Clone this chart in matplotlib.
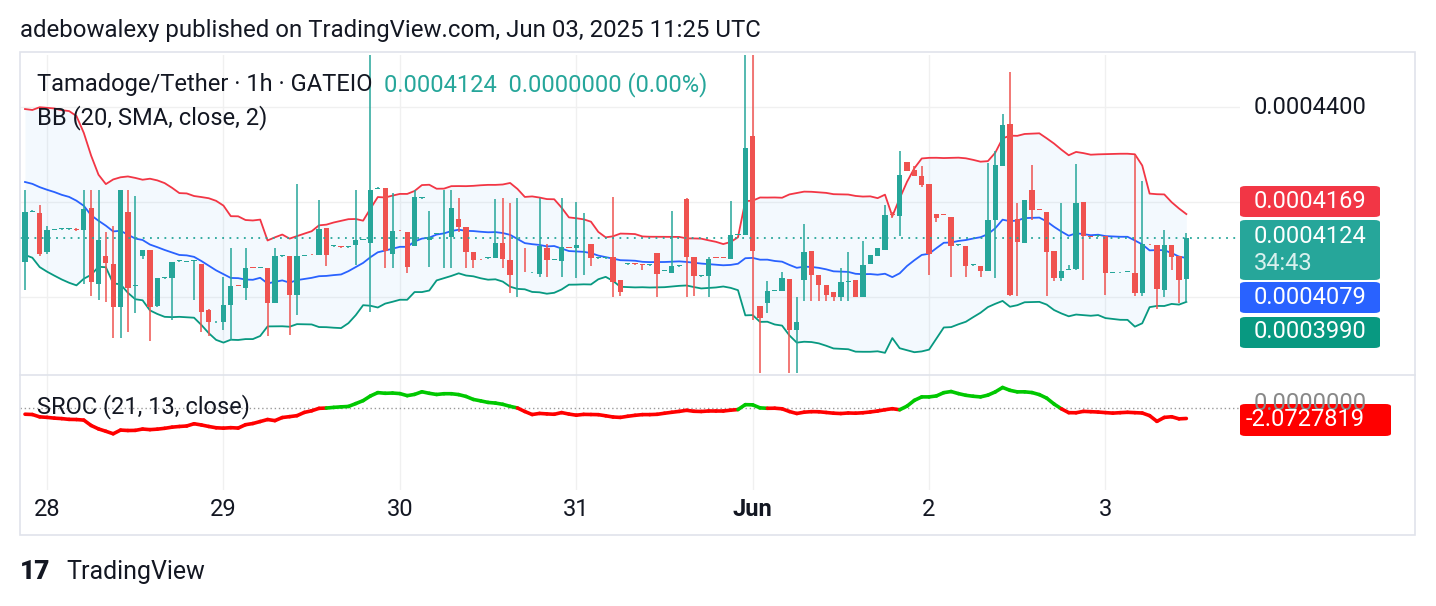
import numpy as np
import pandas as pd
import matplotlib
matplotlib.use("Agg")
import matplotlib.pyplot as plt
from matplotlib.patches import Rectangle, FancyBboxPatch

plt.rcParams["font.family"] = "Roboto"

# ---- data (prices in units of 1e-7 USDT) ----
opens = [4074,4179,4177,4095,4141,4143,4143,4143,4141,4187,4027,4086,4070,3979,4179,4023,4086,4099,3981,4040,
         4040,4076,4074,4076,4070,3973,3947,3947,3983,4026,4019,4063,4062,4061,3987,4086,4086,4004,4086,4091,
         4088,4145,4107,4106,4105,4110,4120,4114,4227,4229,4091,4141,4137,4107,4208,4120,4133,4134,4126,4164,
         4147,4095,4080,4082,4082,4114,4078,4052,4053,4052,4048,4103,4078,4076,4105,4103,4115,4112,4082,4082,
         4084,4036,4069,4070,4069,4067,4093,4055,4051,4065,4206,4084,4044,4044,4084,4084,4080,4131,4131,4339,
         3981,3987,4013,4013,4038,3931,4036,4097,4046,4026,4011,4000,4032,4036,4000,4070,4086,4099,4174,4171,
         4284,4267,4255,4238,4175,4174,4168,4109,4107,4067,4065,4055,4162,4276,4364,4164,4114,4225,4185,4179,
         4097,4040,4057,4059,4200,4128,4128,4128,4051,4052,4053,4051,4008,4112,4110,4015,4110,4086,4038]
highs = [4225,4183,4194,4150,4143,4145,4145,4145,4225,4225,4225,4137,4150,4225,4225,4213,4099,4099,4040,4042,
         4074,4078,4076,4078,4070,3975,3949,4042,4103,4026,4103,4063,4063,4061,4103,4088,4086,4238,4088,4091,
         4204,4145,4109,4106,4106,4225,4122,4509,4231,4229,4219,4141,4137,4225,4210,4181,4134,4225,4225,4208,
         4147,4095,4080,4083,4206,4208,4198,4208,4103,4053,4208,4112,4079,4208,4106,4200,4177,4112,4083,4083,
         4211,4036,4070,4070,4069,4068,4093,4056,4181,4066,4208,4084,4045,4084,4084,4084,4202,4132,4509,4509,
         3981,4034,4014,4053,4038,4000,4154,4097,4046,4026,4011,4061,4095,4036,4118,4088,4103,4194,4179,4307,
         4284,4276,4276,4238,4175,4174,4168,4110,4107,4068,4065,4282,4307,4385,4474,4198,4204,4278,4185,4179,
         4097,4198,4067,4280,4200,4128,4129,4128,4052,4053,4054,4299,4244,4112,4110,4141,4110,4086,4135]
lows = [4015,4179,4086,4091,4141,4141,4141,4139,4027,4002,3994,3990,3914,3914,3926,3966,4080,3907,3979,4038,
        3952,4074,4074,3994,3926,3918,3945,3931,3910,4023,3994,4061,4061,3918,3987,4084,3920,3962,4086,4088,
        4088,4065,4105,4104,4104,4067,4119,3968,4227,4061,4061,4139,4051,4107,4207,4063,4132,4061,4061,4137,
        4061,4061,4078,4081,4082,4061,4008,4000,4052,4051,4042,4042,4077,4042,4103,4040,4046,4065,4081,4081,
        4000,4002,4068,4068,4057,4066,4000,4054,4051,4064,4000,4002,4043,4000,4082,4082,4080,4130,4131,3952,
        3840,3966,4012,4013,3840,3840,3992,3992,3992,3992,3992,3992,3992,4000,4000,4070,4086,4099,4166,4128,
        4265,4255,4232,4046,4158,4172,4042,4108,4042,4066,4042,4055,4040,4276,4002,4002,4114,4162,4183,4002,
        4034,4034,4056,4057,4036,4126,4127,4004,4050,4051,4052,4002,4002,4110,3975,4000,4057,3987,3990]
closes = [4179,4181,4091,4141,4143,4143,4143,4141,4185,4032,4120,4072,3979,4225,4019,4025,4099,3979,4040,4042,
          4074,4076,4074,4078,3968,3947,3947,3983,4023,4024,4061,4062,4063,3987,4086,4086,4004,4086,4088,4090,
          4143,4088,4108,4105,4106,4120,4121,4225,4229,4097,4139,4140,4063,4211,4209,4126,4133,4135,4187,4147,
          4095,4078,4079,4083,4114,4080,4046,4053,4052,4053,4107,4078,4079,4105,4104,4110,4116,4082,4082,4083,
          4032,4011,4070,4069,4068,4068,4048,4056,4065,4066,4084,4044,4045,4080,4083,4083,4131,4132,4314,4097,
          3956,4013,4014,4040,3931,3947,4095,4046,4026,4004,4000,4032,4033,4000,4067,4088,4103,4173,4172,4257,
          4265,4255,4236,4091,4166,4173,4107,4110,4065,4068,4055,4162,4278,4362,4004,4116,4204,4183,4184,4095,
          4040,4055,4058,4198,4128,4127,4129,4051,4052,4053,4054,4008,4112,4111,4017,4110,4084,4036,4124]
# closes before the visible window (estimated, used only for indicator warm-up)
prior_closes = [4250,4240,4260,4230,4250,4240,4260,4230,4300,4400,4430,4350,4280,4220,4200,4180,4190,4160,4170,4150,4160]

day_labels = ["28", "29", "30", "31", "Jun", "2", "3"]
day_index = [3, 27, 51, 75, 99, 123, 147]
scale_label = "0.0004400"
last_labels = ["0.0004169", "0.0004124", "0.0004079", "0.0003990"]
countdown = "34:43"
sroc_label = "-2.0727819"

U = 1e-7
o = np.array(opens) * U; h = np.array(highs) * U; l = np.array(lows) * U; c = np.array(closes) * U
n = len(c)
idx = np.arange(n)
allc = pd.Series(np.concatenate([np.array(prior_closes) * U, c]))
npre = len(prior_closes)
mid = allc.rolling(20).mean()
sd = allc.rolling(20).std(ddof=0)
up = (mid + 2 * sd).values[npre:]
lo = (mid - 2 * sd).values[npre:]
mid = mid.values[npre:]
ema = allc.ewm(span=13, adjust=False).mean()
sroc = (100 * (ema / ema.shift(21) - 1)).values[npre:]

W, H = 1436, 606
fig = plt.figure(figsize=(W / 100, H / 100), dpi=100)
fig.patch.set_facecolor("white")

def fx(px): return px / W
def fy(py): return 1 - py / H

GREEN = "#26a69a"; RED = "#ef5350"; TXT = "#131722"; FS = 17
ax = fig.add_axes([fx(20), fy(375), fx(1240) - fx(20), (375 - 55) / H])
ax2 = fig.add_axes([fx(20), fy(490), fx(1240) - fx(20), (490 - 375) / H], sharex=ax)
for a in (ax, ax2):
    a.set_xlim(-0.68, 165.3)
    for s in a.spines.values():
        s.set_visible(False)
    a.tick_params(left=False, right=False, bottom=False, labelleft=False, labelbottom=False)
    for d in day_index:
        a.axvline(d, color="#f0f0f0", lw=1, zorder=0)

ax.set_ylim(3836 * U, 4509 * U)
for yv in [4000 * U, 4200 * U, 4400 * U]:
    ax.axhline(yv, color="#f0f0f0", lw=1, zorder=0)

ax.fill_between(idx, lo, up, color="#2196f3", alpha=0.05, lw=0, zorder=1)
ax.plot(idx, up, color="#f23645", lw=1.3, zorder=2)
ax.plot(idx, mid, color="#2962ff", lw=1.3, zorder=2)
ax.plot(idx, lo, color="#089981", lw=1.3, zorder=2)

for i in range(n):
    col = GREEN if c[i] >= o[i] else RED
    ax.vlines(i, l[i], h[i], color=col, lw=1.1, zorder=3)
    bh = max(abs(c[i] - o[i]), 1.5 * U)
    ax.add_patch(Rectangle((i - 0.36, min(o[i], c[i])), 0.72, bh, color=col, lw=0, zorder=4))

ax.axhline(c[-1], color=GREEN, lw=1.3, ls=(0, (1, 3)), zorder=5)

ax2.set_ylim(-14.1, 5.7)
ax2.axhline(0, color="#999999", lw=1, ls=(0, (1, 2)))
for i in range(n - 1):
    if np.isnan(sroc[i]) or np.isnan(sroc[i + 1]):
        continue
    col = "#00c800" if (sroc[i] + sroc[i + 1]) / 2 >= 0 else "#ff0000"
    ax2.plot([i, i + 1], [sroc[i], sroc[i + 1]], color=col, lw=2.6, solid_capstyle="round")

fig.add_artist(plt.Line2D([fx(20), fx(1415)], [fy(375), fy(375)], color="#e0e3eb", lw=1.2))
fig.add_artist(Rectangle((fx(20), fy(535)), fx(1415) - fx(20), (535 - 52) / H, fill=False,
                         ec="#e0e3eb", lw=1.2, transform=fig.transFigure))

for d, lab in zip(day_index, day_labels):
    xpix = 25 + 7.35 * d
    fig.text(fx(xpix), fy(510), lab, ha="center", va="center", fontsize=FS,
             color=TXT, fontweight="bold" if lab == "Jun" else "normal")

fig.text(fx(1254), fy(107), scale_label, ha="left", va="center", fontsize=FS, color=TXT)

def box(top, bottom, col, right=1380):
    fig.add_artist(FancyBboxPatch((fx(1240), fy(bottom)), fx(right) - fx(1240), (bottom - top) / H,
                                  boxstyle="round,pad=0,rounding_size=0.004", fc=col, ec="none",
                                  transform=fig.transFigure))

box(186, 217, "#f23645")
fig.text(fx(1254), fy(202), last_labels[0], ha="left", va="center", fontsize=FS, color="white")
box(220, 280, GREEN)
fig.text(fx(1254), fy(236), last_labels[1], ha="left", va="center", fontsize=FS, color="white")
fig.text(fx(1254), fy(264), countdown, ha="left", va="center", fontsize=FS, color="#d8f0ee")
box(282, 313, "#2962ff")
fig.text(fx(1254), fy(297), last_labels[2], ha="left", va="center", fontsize=FS, color="white")
box(317, 348, "#089981")
fig.text(fx(1254), fy(332), last_labels[3], ha="left", va="center", fontsize=FS, color="white")

fig.text(fx(1254), fy(404), "0.0000000", ha="left", va="center", fontsize=FS, color="#888888")
box(404, 436, "#ff0000", right=1391)
fig.text(fx(1246), fy(420), sroc_label, ha="left", va="center", fontsize=FS, color="white")

fig.text(fx(20), fy(31), "adebowalexy published on TradingView.com, Jun 03, 2025 11:25 UTC",
         ha="left", va="center", fontsize=17.3, color=TXT)
fig.text(fx(37), fy(85), "Tamadoge/Tether · 1h · GATEIO", ha="left", va="center", fontsize=FS, color=TXT)
fig.text(fx(384), fy(85), "0.0004124  0.0000000 (0.00%)", ha="left", va="center", fontsize=FS, color=GREEN)
fig.text(fx(37), fy(118), "BB (20, SMA, close, 2)", ha="left", va="center", fontsize=FS, color=TXT)
fig.text(fx(37), fy(407), "SROC (21, 13, close)", ha="left", va="center", fontsize=FS, color=TXT)

fig.text(fx(20), fy(572), "17", ha="left", va="center", fontsize=19, fontweight="black", color=TXT)
fig.text(fx(66), fy(572), "TradingView", ha="left", va="center", fontsize=18, color=TXT)

fig.savefig("out.png", dpi=100)
